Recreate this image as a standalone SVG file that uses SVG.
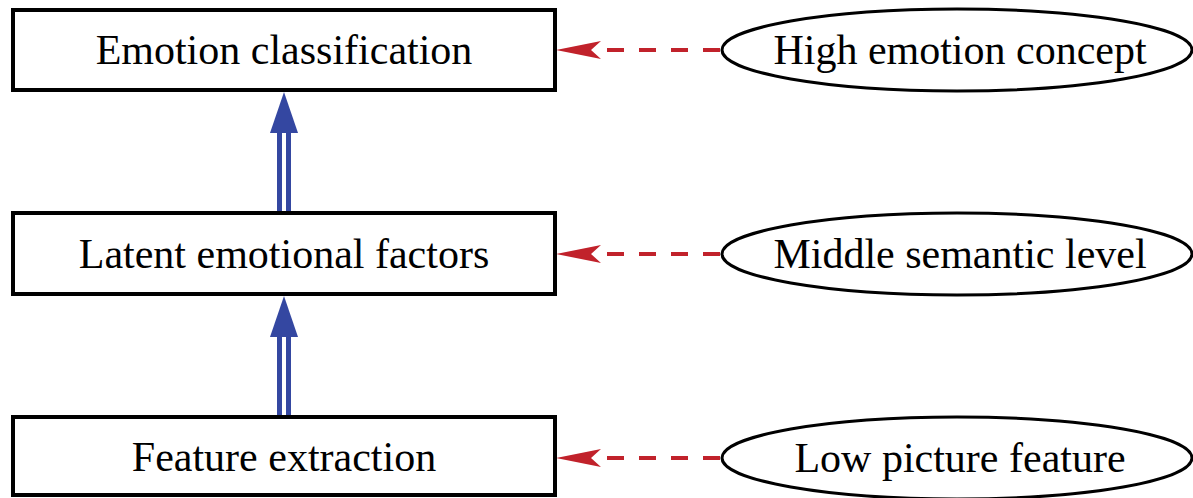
<svg xmlns="http://www.w3.org/2000/svg" width="1193" height="498" viewBox="0 0 1193 498">
<style>
.box{fill:#fff;stroke:#000;stroke-width:4}
.ell{fill:#fff;stroke:#000;stroke-width:3}
.t{font-family:"Liberation Serif","Times New Roman",serif;font-size:42px;fill:#000;text-anchor:middle}
.dash{stroke:#c1222b;stroke-width:4;stroke-dasharray:17 15;fill:none}
.red{fill:#c1222b}
.blue{stroke:#3447a1;stroke-width:5;fill:none}
.bluef{fill:#3447a1}
</style>
<g id="connectors">
<line class="dash" x1="607" y1="50" x2="722" y2="50"/>
<path class="red" d="M556 50 L601 41 L591 50 L601 59 Z"/>
<line class="dash" x1="607" y1="254" x2="722" y2="254"/>
<path class="red" d="M556 254 L601 245 L591 254 L601 263 Z"/>
<line class="dash" x1="607" y1="458" x2="722" y2="458"/>
<path class="red" d="M556 458 L601 449 L591 458 L601 467 Z"/>
<line class="blue" x1="279.5" y1="130" x2="279.5" y2="213"/>
<line class="blue" x1="288.5" y1="130" x2="288.5" y2="213"/>
<path class="bluef" d="M284 92 L298 133 L270 133 Z"/>
<line class="blue" x1="279.5" y1="334" x2="279.5" y2="417"/>
<line class="blue" x1="288.5" y1="334" x2="288.5" y2="417"/>
<path class="bluef" d="M284 296 L298 337 L270 337 Z"/>
</g>
<g id="emotion-classification">
<rect class="box" x="13" y="10" width="542" height="80"/>
<text class="t" x="284" y="64">Emotion classification</text>
</g>
<g id="latent-emotional-factors">
<rect class="box" x="13" y="213" width="542" height="81"/>
<text class="t" x="284" y="268">Latent emotional factors</text>
</g>
<g id="feature-extraction">
<rect class="box" x="13" y="417" width="542" height="78"/>
<text class="t" x="284" y="471">Feature extraction</text>
</g>
<g id="high-emotion-concept">
<ellipse class="ell" cx="957" cy="50" rx="235" ry="41"/>
<text class="t" x="960" y="64">High emotion concept</text>
</g>
<g id="middle-semantic-level">
<ellipse class="ell" cx="957" cy="254" rx="235" ry="41"/>
<text class="t" x="960" y="268">Middle semantic level</text>
</g>
<g id="low-picture-feature">
<ellipse class="ell" cx="957" cy="458" rx="235" ry="41"/>
<text class="t" x="960" y="472">Low picture feature</text>
</g>
</svg>
